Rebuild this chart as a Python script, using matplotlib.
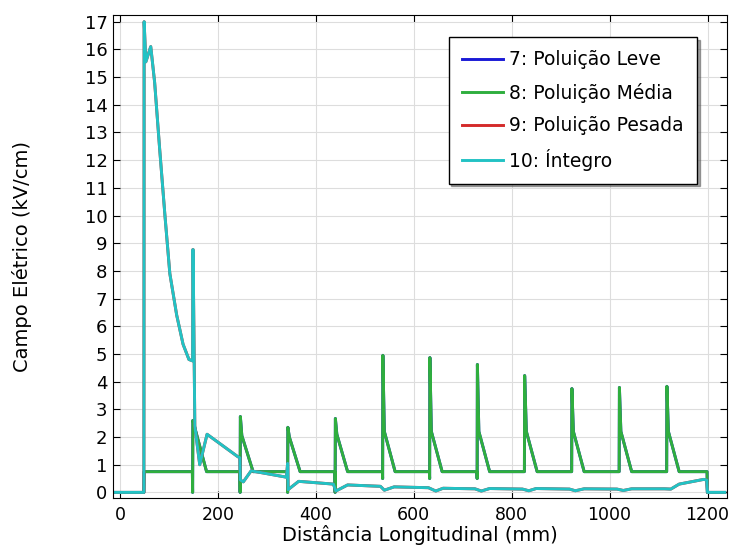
import matplotlib
matplotlib.use("Agg")
import matplotlib.pyplot as plt

# curva 8: poluição média (mm, kV/cm)
x_media = [-10, 49, 49.5, 148, 148.5, 149, 152, 177,
           245, 245.5, 246, 249, 272,
           342, 342.5, 343, 346, 368,
           439, 439.5, 440, 443, 465,
           536, 536.5, 537, 540, 562,
           632, 632.5, 633, 636, 658,
           729, 729.5, 730, 733, 755,
           826, 826.5, 830, 852,
           922.5, 923, 926, 948,
           1019.5, 1020, 1023, 1045,
           1116.5, 1117, 1120, 1142,
           1199, 1199.5, 1235]
y_media = [0, 0, 0.75, 0.75, 0, 2.6, 2.4, 0.75,
           0.75, 0, 2.74, 2.05, 0.75,
           0.75, 0, 2.35, 2.0, 0.75,
           0.75, 0, 2.67, 2.1, 0.75,
           0.75, 0.5, 4.95, 2.2, 0.75,
           0.75, 0.5, 4.87, 2.2, 0.75,
           0.75, 0.5, 4.62, 2.2, 0.75,
           0.75, 4.22, 2.2, 0.75,
           0.75, 3.75, 2.2, 0.75,
           0.75, 3.79, 2.2, 0.75,
           0.75, 3.83, 2.2, 0.75,
           0.75, 0, 0]

# curva 10: isolador íntegro
x_integro = [-10, 49, 49.5, 53, 63, 71, 81, 92, 102, 116, 129, 141, 148.5,
             149, 149.5, 153, 163, 178, 240, 245, 246, 252, 268, 340,
             342.5, 343.5, 365, 436, 441, 465, 532, 540, 560, 630, 645,
             660, 725, 738, 755, 822, 835, 850, 918, 930, 948, 1015,
             1028, 1045, 1112, 1125, 1142, 1192, 1198, 1200, 1235]
y_integro = [0, 0, 17.0, 15.55, 16.1, 14.8, 12.45, 10.0, 7.9, 6.4, 5.35, 4.8, 4.75,
             8.77, 8.77, 2.4, 1.0, 2.1, 1.3, 1.25, 0.45, 0.38, 0.78, 0.55,
             1.05, 0.1, 0.4, 0.3, 0.05, 0.27, 0.22, 0.08, 0.2, 0.17, 0.05,
             0.15, 0.13, 0.05, 0.14, 0.12, 0.06, 0.14, 0.12, 0.06, 0.13, 0.12,
             0.07, 0.13, 0.13, 0.12, 0.3, 0.47, 0.45, 0, 0]

# as curvas 7 e 9 ficam por baixo das outras duas
x_leve, y_leve = x_media, y_media
x_pesada, y_pesada = x_integro, y_integro

legendas = ["7: Poluição Leve", "8: Poluição Média",
            "9: Poluição Pesada", "10: Íntegro"]
cores = ["#1a1ad6", "#2fae3e", "#d42a2a", "#22c2c4"]

fig = plt.figure(figsize=(7.34, 5.46), dpi=100)
ax = fig.add_axes([0.154, 0.088, 0.836, 0.885])

series = [(x_leve, y_leve), (x_media, y_media),
          (x_pesada, y_pesada), (x_integro, y_integro)]
for (xs, ys), nome, cor in zip(series, legendas, cores):
    ax.plot(xs, ys, color=cor, lw=2.1, label=nome)

ax.set_xlim(-14, 1239)
ax.set_ylim(-0.2, 17.25)
ax.set_xticks(range(0, 1201, 200))
ax.set_yticks(range(0, 18))
ax.grid(True, color="#dddddd", lw=0.8)
ax.tick_params(direction="in", top=True, right=True, labelsize=13, length=5, pad=4)
ax.tick_params(axis="x", pad=6, labelsize=12.5)

ax.set_xlabel("Distância Longitudinal (mm)", fontsize=14, labelpad=0.5)
ax.set_ylabel("Campo Elétrico (kV/cm)", fontsize=14, labelpad=38)

leg = ax.legend(loc="upper right", bbox_to_anchor=(0.952, 0.954), borderaxespad=0,
                fontsize=13.5, fancybox=False, shadow=True, framealpha=1,
                edgecolor="black", handlelength=2.2, handletextpad=0.35,
                labelspacing=0.72, borderpad=0.7)
leg.get_frame().set_linewidth(1)

fig.savefig("out.png", dpi=100)
